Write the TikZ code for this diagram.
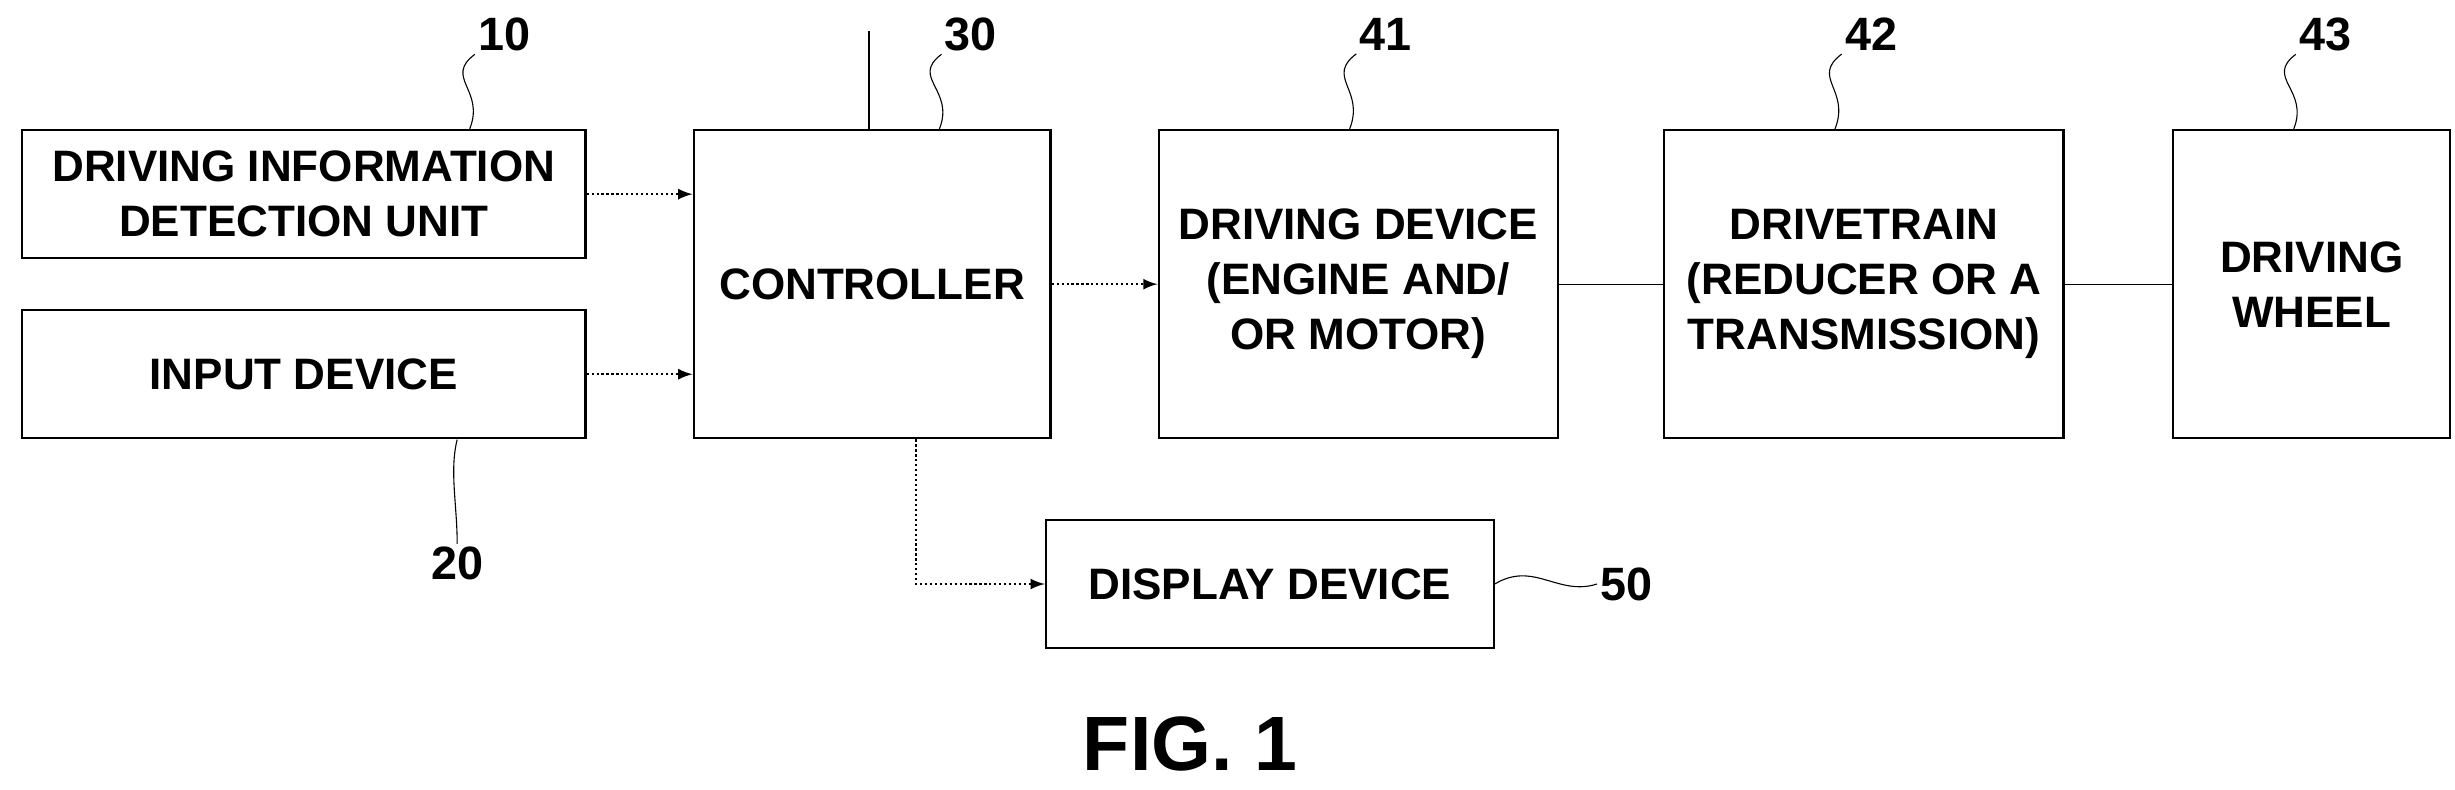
\documentclass[tikz,border=0pt]{standalone}
\usepackage{fontspec}
\setmainfont{Liberation Sans}
\usetikzlibrary{calc,positioning}
\tikzset{>=latex}
\tikzset{
  blk/.style={draw,thick,minimum height=1.64cm,align=center,inner sep=0pt,
    font=\fontsize{16}{20}\selectfont\bfseries},
  num/.style={font=\fontsize{17}{20}\selectfont\bfseries,inner sep=1pt},
  sig/.style={densely dotted,->,thick},
}
\begin{document}
\begin{tikzpicture}[x=0.02cm,y=-0.02cm]
        \useasboundingbox (0,0) rectangle (1568,504);
        %%% blocks
        \node[blk,minimum width=7.2cm] (detect) at (194,124) {DRIVING INFORMATION\\DETECTION UNIT};
        \node[blk,minimum width=7.2cm] (input) at (194,239) {INPUT DEVICE};
        \node[blk,minimum width=4.56cm,minimum height=3.94cm] (ctrl) at (557,181.5) {CONTROLLER};
        \node[blk,minimum width=5.1cm,minimum height=3.94cm] (drive) at (867.5,181.5) {DRIVING DEVICE\\(ENGINE AND/\\OR MOTOR)};
        \node[blk,minimum width=5.1cm,minimum height=3.94cm] (train) at (1190.5,181.5) {DRIVETRAIN\\(REDUCER OR A\\TRANSMISSION)};
        \node[blk,minimum width=3.54cm,minimum height=3.94cm] (wheel) at (1476.5,181.5) {DRIVING\\WHEEL};
        \node[blk,minimum width=5.72cm] (disp) at (811,373) {DISPLAY DEVICE};
        %%% connectors
        \draw[sig] (detect.east) -- (detect.east -| ctrl.west);
        \draw[sig] (input.east) -- (input.east -| ctrl.west);
        \draw[sig] (ctrl.east) -- (drive.west);
        \draw (drive.east) -- (train.west);
        \draw (train.east) -- (wheel.west);
        \draw[sig] (ctrl.south -| 585,0) |- (disp.west);
        \coordinate (top) at (555,20);
        \draw (ctrl.north -| top) -- (top);
        %%% reference numerals
        \node[num] (n10) at (322,22) {10};
        \node[num] (n20) at (292,360) {20};
        \node[num] (n30) at (620,22) {30};
        \node[num] (n41) at (885,22) {41};
        \node[num] (n42) at (1195,22) {42};
        \node[num] (n43) at (1485,22) {43};
        \node[num,anchor=west] (n50) at (1020,373) {50};
        \draw (n10.south west) .. controls +(-20,15) and +(10,-25) .. (detect.north -| 300,0);
        \draw (n30.south west) .. controls +(-20,15) and +(10,-25) .. (ctrl.north -| 600,0);
        \draw (n41.south west) .. controls +(-20,15) and +(10,-25) .. (drive.north -| 862,0);
        \draw (n42.south west) .. controls +(-20,15) and +(10,-25) .. (train.north -| 1172,0);
        \draw (n43.south west) .. controls +(-20,15) and +(10,-25) .. (wheel.north -| 1465,0);
        \draw (n20.north) .. controls +(0,-25) and +(-5,20) .. (input.south -| 292,0);
        \draw (disp.east) .. controls +(25,-15) and +(-25,8) .. (n50.west);
        %%%
        \node[font=\fontsize{28}{32}\selectfont\bfseries] (fig) at (760,475) {FIG. 1};
\end{tikzpicture}
\end{document}
